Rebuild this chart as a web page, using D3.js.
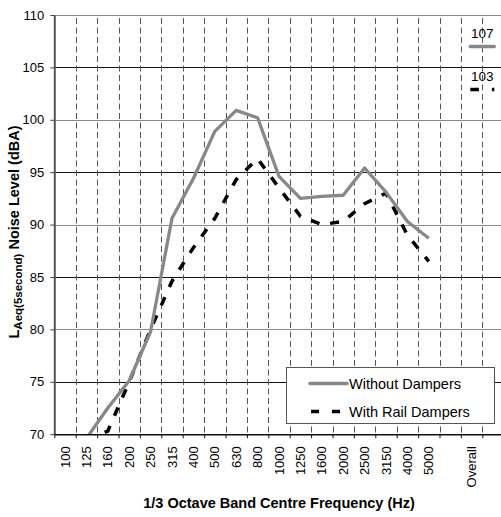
<!DOCTYPE html>
<html>
<head>
<meta charset="utf-8">
<script src="https://cdn.jsdelivr.net/npm/d3@7"></script>
<style>
  body { margin: 0; background: #fff; }
  text { font-family: Arial, "Liberation Sans", sans-serif; }
</style>
</head>
<body>
<div id="chart"></div>
<script>
//
// Noise level by 1/3 octave band, with and without rail dampers
//

////////////////////////////////////////////////////////////////////////
// Data

let bandLabels = ["100", "125", "160", "200", "250", "315", "400", "500", "630",
                  "800", "1000", "1250", "1600", "2000", "2500", "3150", "4000",
                  "5000", "", "Overall", ""];

let withoutDampers = [null, 69.6, 72.5, 75.1, 79.8, 90.6, 94.4, 98.9, 100.9,
                      100.2, 94.6, 92.5, 92.7, 92.8, 95.4, 93.1, 90.3, 88.7];
let withDampers    = [null, 69.4, 70.3, 75.0, 80.0, 84.6, 87.8, 90.6, 94.3,
                      96.3, 93.5, 90.8, 90.0, 90.3, 92.0, 93.0, 89.0, 86.5];

let overallValues = [107, 102.9];
let overallLabels = ["107", "103"];

let seriesNames = ["Without Dampers", "With Rail Dampers"];
let yTicks = [70, 75, 80, 85, 90, 95, 100, 105, 110];

////////////////////////////////////////////////////////////////////////
// Layout and scales

let svgW = 501, svgH = 517;
let plotL = 54.3, plotT = 15, plotB = 434.2, plotR = 503.7;

let xBand = d3.scaleBand().domain(d3.range(bandLabels.length)).range([plotL, plotR]);
let xEdge = d3.scaleLinear().domain([0, bandLabels.length]).range([plotL, plotR]);
let yScale = d3.scaleLinear().domain([70, 110]).range([plotB, plotT]);

let svg = d3.select("#chart").append("svg")
    .attr("width", svgW)
    .attr("height", svgH);

svg.append("clipPath").attr("id", "plotClip")
  .append("rect")
    .attr("x", plotL).attr("y", plotT - 2)
    .attr("width", plotR - plotL).attr("height", plotB - plotT + 2);

// horizontal gridlines
svg.append("g").selectAll("line")
  .data(yTicks.slice(1))
  .enter().append("line")
    .attr("x1", plotL).attr("x2", plotR)
    .attr("y1", d => Math.round(yScale(d)) + 0.5)
    .attr("y2", d => Math.round(yScale(d)) + 0.5)
    .attr("stroke", d => d % 10 === 0 ? "#8a8a8a" : "#111")
    .attr("stroke-width", 1);

// vertical dashed gridlines on the band edges
svg.append("g").selectAll("line")
  .data(d3.range(1, bandLabels.length))
  .enter().append("line")
    .attr("x1", d => Math.round(xEdge(d)) + 0.5)
    .attr("x2", d => Math.round(xEdge(d)) + 0.5)
    .attr("y1", plotT + 3).attr("y2", plotB)
    .attr("stroke", "#555")
    .attr("stroke-width", 1)
    .attr("stroke-dasharray", "6,3.5");

////////////////////////////////////////////////////////////////////////
// Series

let line = d3.line()
    .defined(d => d !== null)
    .x((d, i) => xBand(i) + xBand.bandwidth() / 2)
    .y(d => yScale(d));

let plot = svg.append("g").attr("clip-path", "url(#plotClip)");

plot.append("path")
    .attr("d", line(withDampers))
    .attr("fill", "none")
    .attr("stroke", "#000")
    .attr("stroke-width", 3.5)
    .attr("stroke-dasharray", "9,11");

plot.append("path")
    .attr("d", line(withoutDampers))
    .attr("fill", "none")
    .attr("stroke", "#888")
    .attr("stroke-width", 3.3)
    .attr("stroke-linejoin", "round");

// overall values: short markers with labels above
let overallX = xBand(19) + xBand.bandwidth();
overallValues.forEach(function(v, i) {
  plot.append("line")
    .attr("x1", overallX - 12).attr("x2", overallX + 12)
    .attr("y1", yScale(v)).attr("y2", yScale(v))
    .attr("stroke", i === 0 ? "#888" : "#000")
    .attr("stroke-width", 3.5)
    .attr("stroke-linecap", i === 0 ? "round" : "butt")
    .attr("stroke-dasharray", i === 0 ? null : "8.6,13");
  svg.append("text")
    .attr("x", overallX)
    .attr("y", yScale(v) - 8)
    .attr("text-anchor", "middle")
    .attr("font-size", "13.5px")
    .attr("fill", "#000")
    .text(overallLabels[i]);
});

////////////////////////////////////////////////////////////////////////
// Axes

let yAxis = svg.append("g")
    .attr("transform", "translate(" + plotL + ",0)")
    .call(d3.axisLeft(yScale).tickValues(yTicks).tickSize(4).tickSizeOuter(0).tickPadding(6));
yAxis.select(".domain").attr("stroke", "#555").attr("stroke-width", 2);
yAxis.selectAll(".tick line").attr("stroke", "#444");
yAxis.selectAll(".tick text").attr("font-size", "13px").attr("fill", "#000")
    .style("font-family", "Arial, 'Liberation Sans', sans-serif");

let xAxis = svg.append("g")
    .attr("transform", "translate(0," + plotB + ")")
    .call(d3.axisBottom(xEdge).tickValues(d3.range(bandLabels.length)).tickFormat("")
          .tickSize(4).tickSizeOuter(0));
xAxis.select(".domain").attr("stroke", "#111").attr("stroke-width", 1.5);
xAxis.selectAll(".tick line").attr("stroke", "#111");

let xLabels = svg.append("g")
    .attr("transform", "translate(0," + (plotB + 12) + ")")
    .call(d3.axisBottom(xBand).tickSize(0).tickFormat(i => bandLabels[i]));
xLabels.select(".domain").remove();
xLabels.selectAll(".tick text")
    .attr("transform", "rotate(-90)")
    .attr("text-anchor", "end")
    .attr("x", 0).attr("y", 0).attr("dy", "0.35em")
    .attr("font-size", "13px").attr("fill", "#000")
    .style("font-family", "Arial, 'Liberation Sans', sans-serif");

// axis titles
svg.append("text")
    .attr("x", 279).attr("y", 508)
    .attr("text-anchor", "middle")
    .attr("font-size", "14.5px")
    .attr("font-weight", "bold")
    .text("1/3 Octave Band Centre Frequency (Hz)");

let yTitle = svg.append("text")
    .attr("transform", "translate(19,232) rotate(-90)")
    .attr("text-anchor", "middle")
    .attr("font-size", "14.5px")
    .attr("font-weight", "bold");
yTitle.append("tspan").text("L");
yTitle.append("tspan").attr("dy", 3).attr("font-size", "11.5px").text("Aeq(5second)");
yTitle.append("tspan").attr("dy", -3).text(" Noise Level (dBA)");

////////////////////////////////////////////////////////////////////////
// Legend

let legend = svg.append("g");
legend.append("rect")
    .attr("x", 286.5).attr("y", 367.5)
    .attr("width", 208).attr("height", 56)
    .attr("fill", "#fff")
    .attr("stroke", "#555");

legend.append("line")
    .attr("x1", 310).attr("x2", 347)
    .attr("y1", 383.5).attr("y2", 383.5)
    .attr("stroke", "#888").attr("stroke-width", 3.5)
    .attr("stroke-linecap", "round");
legend.append("line")
    .attr("x1", 311).attr("x2", 340)
    .attr("y1", 411.5).attr("y2", 411.5)
    .attr("stroke", "#000").attr("stroke-width", 3.5)
    .attr("stroke-dasharray", "8,13");

legend.selectAll("text")
  .data(seriesNames)
  .enter().append("text")
    .attr("x", 349)
    .attr("y", (d, i) => 383.5 + i * 28.2)
    .attr("dy", "0.36em")
    .attr("font-size", "14.5px")
    .attr("fill", "#000")
    .text(d => d);
</script>
</body>
</html>
